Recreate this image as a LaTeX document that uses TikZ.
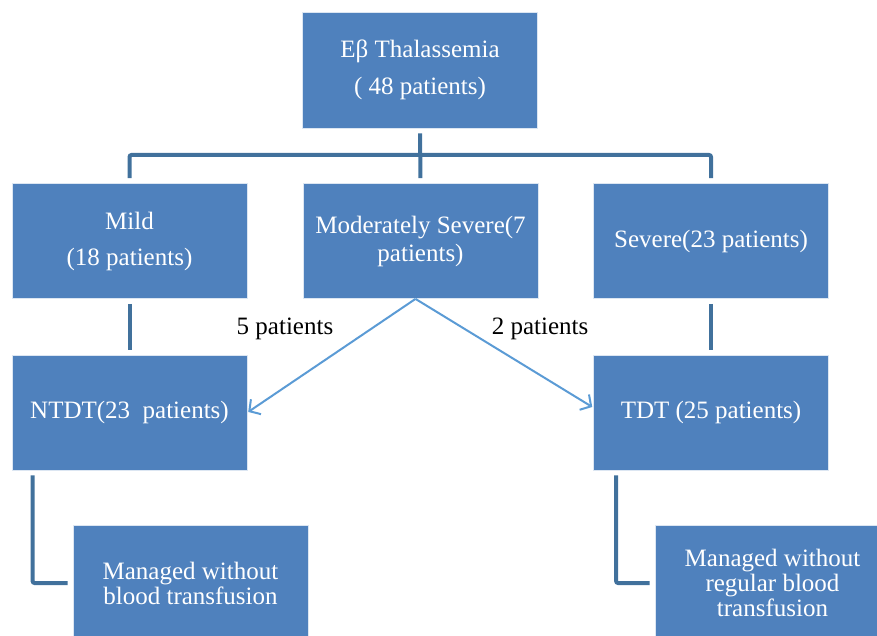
\documentclass[tikz,border=0pt]{standalone}
\usepackage{fontspec}
\setmainfont{Liberation Serif}
\usetikzlibrary{arrows.meta}
\definecolor{boxblue}{HTML}{4F81BD}
\definecolor{treeblue}{HTML}{41719C}
\definecolor{arrowblue}{HTML}{5B9BD5}
\begin{document}
\begin{tikzpicture}[x=1pt,y=-1pt,
  box/.style={draw=white!80!boxblue,line width=0.8pt,fill=boxblue,text=white,
    minimum width=235pt,minimum height=115pt,inner sep=0pt,align=center,
    font=\fontsize{25}{28}\selectfont},
  tree/.style={treeblue,line width=4pt,rounded corners=2pt,shorten <=5pt,shorten >=5pt},
  move/.style={arrowblue,line width=2pt,shorten >=1pt,-{Straight Barb[length=8pt,width=18pt]}},
  lbl/.style={font=\fontsize{25}{28}\selectfont}]
\useasboundingbox (0,0) rectangle (877,636);
\clip (0,0) rectangle (877,636);
%
\node[box,minimum height=116pt] (top) at (420,70) {Eβ Thalassemia\\[9pt]( 48 patients)};
\node[box] (mild) at (129.5,241) {Mild\\[8pt](18 patients)};
\node[box] (mod) at (420.5,241) {Moderately Severe(7\\patients)};
\node[box] (sev) at (711,241) {Severe(23 patients)};
\node[box] (ntdt) at (129.5,412.5) {NTDT(23 \ patients)};
\node[box] (tdt) at (711,412.5) {TDT (25 patients)};
\node[box] (manl) at (190.5,583) {Managed without\\[-3pt]blood transfusion};
\node[box] (manr) at (772.5,583) {Managed without\\[-3pt]regular blood\\[-3pt]transfusion};
\coordinate (bus) at (420,155);
%
\draw[tree] (top) -- (mod);
\draw[tree] (mild.north) |- (bus) -| (sev.north);
\draw[tree] (mild) -- (ntdt);
\draw[tree] (sev) -- (tdt);
\draw[tree] ([xshift=21pt]ntdt.south west) |- (manl.west);
\draw[tree] ([xshift=23pt]tdt.south west) |- (manr.west);
%
\draw[move] ([xshift=-5pt]mod.south) -- (ntdt.east);
\draw[move] ([xshift=-5pt]mod.south) -- ([yshift=5pt]tdt.west);
\node[lbl] (five) at (285,329) {5 patients};
\node[lbl] (two) at (540,329) {2 patients};
%
\end{tikzpicture}
\end{document}
